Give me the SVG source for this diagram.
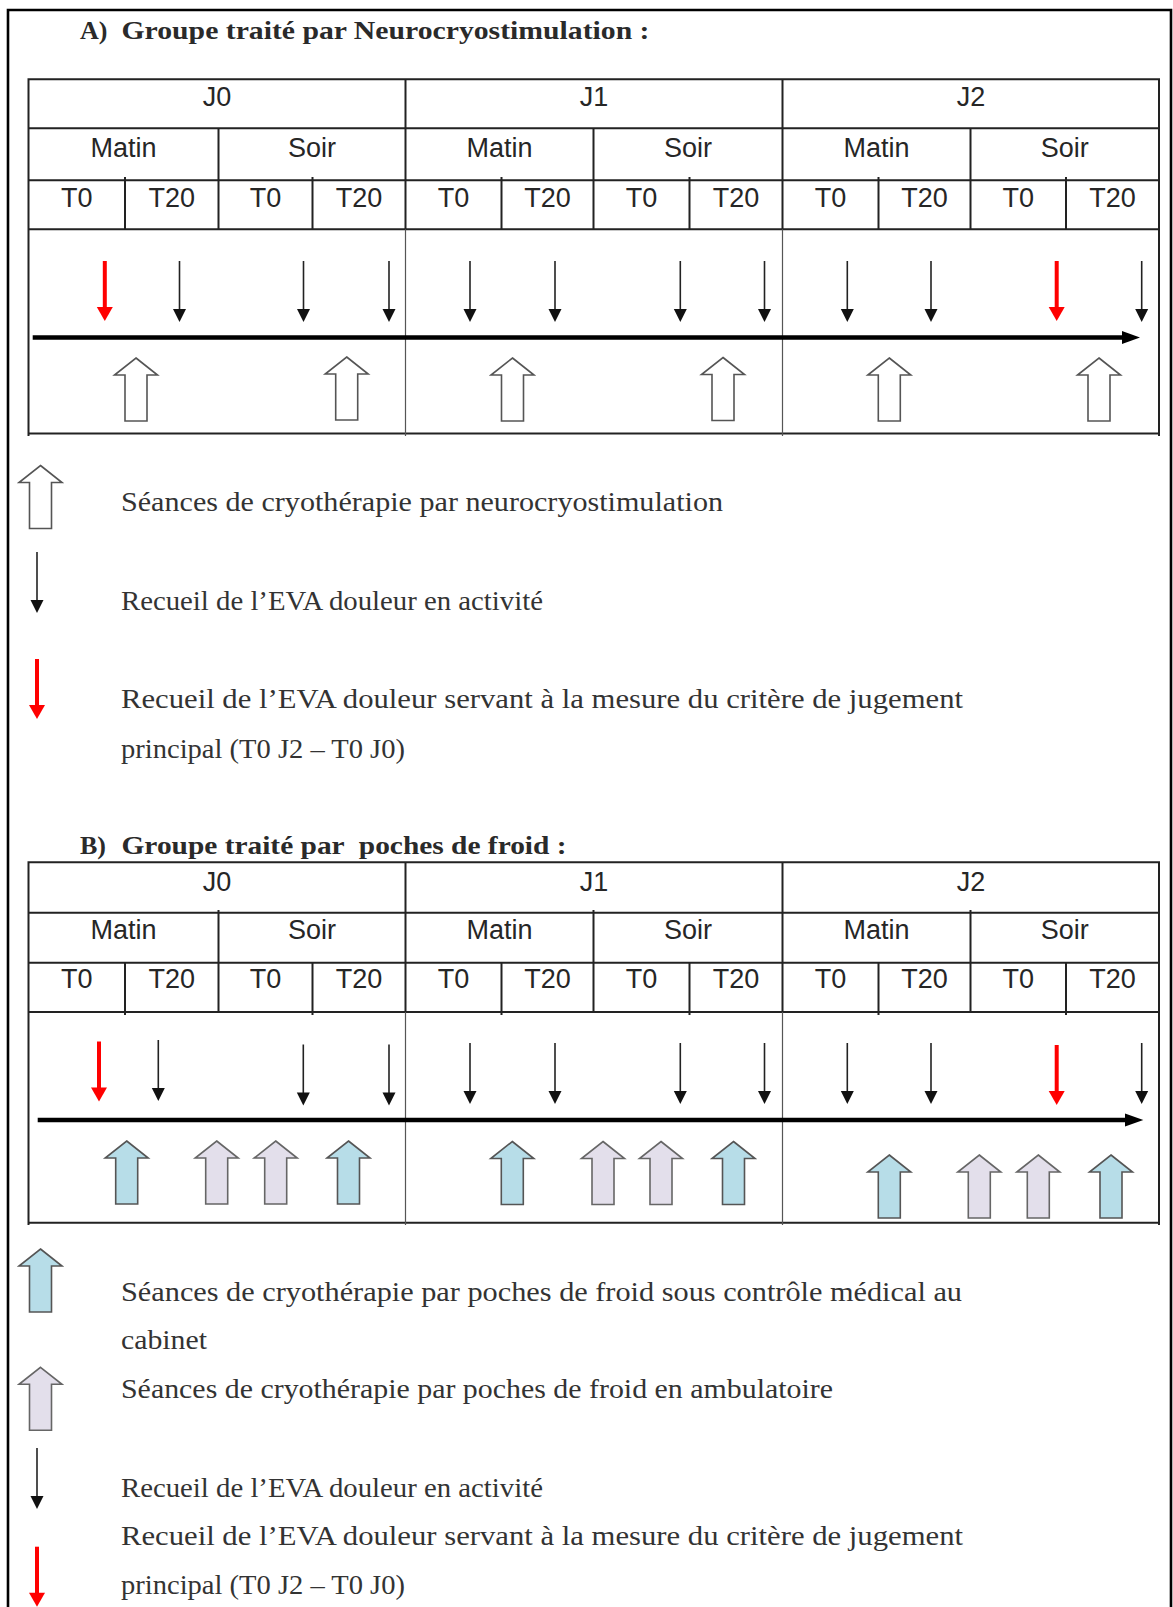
<svg xmlns="http://www.w3.org/2000/svg" width="1173" height="1607" viewBox="0 0 1173 1607">
  <style>
    .frame { fill: none; stroke: #000; stroke-width: 2.6; }
    .grid { fill: none; stroke: #222; stroke-width: 2; }
    .sep { fill: none; stroke: #555; stroke-width: 1.2; }
    .hd { font-family: "Liberation Sans", Arial, sans-serif; font-size: 27px; fill: #262626; text-anchor: middle; }
    .ttl { font-family: "Liberation Serif", "Times New Roman", serif; font-size: 26px; font-weight: bold; fill: #2a2a2a; }
    .lg { font-family: "Liberation Serif", "Times New Roman", serif; font-size: 28px; fill: #333; }
    .timeline { stroke: #000; stroke-width: 4.5; fill: none; }
    .sess-n { fill: #fff; stroke: #555; stroke-width: 1.6; }
    .sess-cab { fill: #b7dde8; stroke: #555; stroke-width: 1.6; }
    .sess-amb { fill: #e3dfeb; stroke: #666; stroke-width: 1.6; }
  </style>
  <defs>
    <!-- EVA pain measure: thin black arrow -->
    <g id="evaK">
      <line x1="0" y1="0" x2="0" y2="49" stroke="#222" stroke-width="1.6"/>
      <path d="M-6.5,48 L6.5,48 L0,61 Z" fill="#111"/>
    </g>
    <!-- EVA used for the primary endpoint: red arrow -->
    <g id="evaR">
      <line x1="0" y1="0" x2="0" y2="47" stroke="#f00" stroke-width="4"/>
      <path d="M-8,46 L8,46 L0,60 Z" fill="#f00"/>
    </g>
    <!-- block up-arrow for a cryotherapy session, tip at origin -->
    <path id="upArrow" d="M0,0 L21.5,17 L11,17 L11,63 L-11,63 L-11,17 L-21.5,17 Z"/>
  </defs>

  <rect width="1173" height="1607" fill="#fff"/>

  <!-- page frame -->
  <path class="frame" d="M8,1607 V10 H1171 V1607"/>

  <!-- ===================== A ===================== -->
  <g id="title-a">
    <text class="ttl" x="80" y="38.5">A)</text>
    <text class="ttl" x="121.5" y="38.5" textLength="528" lengthAdjust="spacingAndGlyphs">Groupe traité par Neurocryostimulation :</text>
  </g>

  <g id="table-a">
    <path class="grid" d="M28.5,79.3 H1159 M28.5,128.3 H1159 M28.5,180.3 H1159 M28.5,229.3 H1159 M28.5,433.5 H1159
      M28.5,78.3 V436 M1159,78.3 V436
      M405.5,78.3 V229.3 M782.5,78.3 V229.3
      M218.5,128.3 V229.3 M593.5,128.3 V229.3 M970.5,128.3 V229.3
      M125,177 V229.3 M312.5,177 V229.3 M501.5,177 V229.3 M689.5,177 V229.3 M878.5,177 V229.3 M1066,177 V229.3"/>
    <path class="sep" d="M405.5,229.3 V436 M782.5,229.3 V436"/>
    <g id="days-a">
      <text class="hd" x="217" y="106">J0</text>
      <text class="hd" x="594" y="106">J1</text>
      <text class="hd" x="971" y="106">J2</text>
    </g>
    <g id="halves-a">
      <text class="hd" x="123.5" y="156.5">Matin</text>
      <text class="hd" x="312" y="156.5">Soir</text>
      <text class="hd" x="499.5" y="156.5">Matin</text>
      <text class="hd" x="688" y="156.5">Soir</text>
      <text class="hd" x="876.5" y="156.5">Matin</text>
      <text class="hd" x="1064.7" y="156.5">Soir</text>
    </g>
    <g id="times-a">
      <text class="hd" x="76.7" y="206.5">T0</text>
      <text class="hd" x="171.7" y="206.5">T20</text>
      <text class="hd" x="265.5" y="206.5">T0</text>
      <text class="hd" x="359" y="206.5">T20</text>
      <text class="hd" x="453.5" y="206.5">T0</text>
      <text class="hd" x="547.5" y="206.5">T20</text>
      <text class="hd" x="641.5" y="206.5">T0</text>
      <text class="hd" x="736" y="206.5">T20</text>
      <text class="hd" x="830.5" y="206.5">T0</text>
      <text class="hd" x="924.5" y="206.5">T20</text>
      <text class="hd" x="1018.2" y="206.5">T0</text>
      <text class="hd" x="1112.5" y="206.5">T20</text>
    </g>
  </g>

  <g id="eva-a">
    <use href="#evaR" x="104.8" y="261"/>
    <use href="#evaK" x="179.5" y="261"/>
    <use href="#evaK" x="303.5" y="261"/>
    <use href="#evaK" x="389" y="261"/>
    <use href="#evaK" x="470" y="261"/>
    <use href="#evaK" x="555" y="261"/>
    <use href="#evaK" x="680.3" y="261"/>
    <use href="#evaK" x="764.5" y="261"/>
    <use href="#evaK" x="847.3" y="261"/>
    <use href="#evaK" x="931" y="261"/>
    <use href="#evaR" x="1056.7" y="261"/>
    <use href="#evaK" x="1141.7" y="261"/>
  </g>

  <g id="sessions-a">
    <use href="#upArrow" class="sess-n" x="136" y="358"/>
    <use href="#upArrow" class="sess-n" x="346.7" y="357"/>
    <use href="#upArrow" class="sess-n" x="512.5" y="358"/>
    <use href="#upArrow" class="sess-n" x="723" y="357.5"/>
    <use href="#upArrow" class="sess-n" x="889.3" y="358"/>
    <use href="#upArrow" class="sess-n" x="1099" y="358"/>
  </g>

  <g id="legend-a">
    <g id="legend-a-neuro">
      <use href="#upArrow" class="sess-n" x="40.5" y="465.5"/>
      <text class="lg" x="121" y="511" textLength="602" lengthAdjust="spacingAndGlyphs">Séances de cryothérapie par neurocryostimulation</text>
    </g>
    <g id="legend-a-eva">
      <use href="#evaK" x="37" y="552"/>
      <text class="lg" x="121" y="610" textLength="422" lengthAdjust="spacingAndGlyphs">Recueil de l’EVA douleur en activité</text>
    </g>
    <g id="legend-a-main">
      <use href="#evaR" x="37" y="659"/>
      <text class="lg" x="121" y="708" textLength="842" lengthAdjust="spacingAndGlyphs">Recueil de l’EVA douleur servant à la mesure du critère de jugement</text>
      <text class="lg" x="121" y="758" textLength="284" lengthAdjust="spacingAndGlyphs">principal (T0 J2 – T0 J0)</text>
    </g>
  </g>

  <!-- ===================== B ===================== -->
  <g id="title-b">
    <text class="ttl" x="80" y="854">B)</text>
    <text class="ttl" x="121.5" y="854" textLength="445" lengthAdjust="spacingAndGlyphs" xml:space="preserve">Groupe traité par  poches de froid :</text>
  </g>

  <g id="table-b">
    <path class="grid" d="M28.5,862.3 H1159 M28.5,912.7 H1159 M28.5,962.7 H1159 M28.5,1012 H1159 M28.5,1222.7 H1159
      M28.5,861.3 V1225 M1159,861.3 V1225
      M405.5,861.3 V1012 M782.5,861.3 V1012
      M218.5,910 V1012 M593.5,910 V1012 M970.5,910 V1012
      M125,962.7 V1015 M312.5,962.7 V1015 M501.5,962.7 V1015 M689.5,962.7 V1015 M878.5,962.7 V1015 M1066,962.7 V1015"/>
    <path class="sep" d="M405.5,1012 V1225 M782.5,1012 V1225"/>
    <g id="days-b">
      <text class="hd" x="217" y="891">J0</text>
      <text class="hd" x="594" y="891">J1</text>
      <text class="hd" x="971" y="891">J2</text>
    </g>
    <g id="halves-b">
      <text class="hd" x="123.5" y="939">Matin</text>
      <text class="hd" x="312" y="939">Soir</text>
      <text class="hd" x="499.5" y="939">Matin</text>
      <text class="hd" x="688" y="939">Soir</text>
      <text class="hd" x="876.5" y="939">Matin</text>
      <text class="hd" x="1064.7" y="939">Soir</text>
    </g>
    <g id="times-b">
      <text class="hd" x="76.7" y="988">T0</text>
      <text class="hd" x="171.7" y="988">T20</text>
      <text class="hd" x="265.5" y="988">T0</text>
      <text class="hd" x="359" y="988">T20</text>
      <text class="hd" x="453.5" y="988">T0</text>
      <text class="hd" x="547.5" y="988">T20</text>
      <text class="hd" x="641.5" y="988">T0</text>
      <text class="hd" x="736" y="988">T20</text>
      <text class="hd" x="830.5" y="988">T0</text>
      <text class="hd" x="924.5" y="988">T20</text>
      <text class="hd" x="1018.2" y="988">T0</text>
      <text class="hd" x="1112.5" y="988">T20</text>
    </g>
  </g>

  <g id="eva-b">
    <use href="#evaR" x="99" y="1041.5"/>
    <use href="#evaK" x="158.3" y="1040"/>
    <use href="#evaK" x="303.3" y="1044.5"/>
    <use href="#evaK" x="389" y="1044.5"/>
    <use href="#evaK" x="470" y="1043"/>
    <use href="#evaK" x="555" y="1043"/>
    <use href="#evaK" x="680.3" y="1043"/>
    <use href="#evaK" x="764.5" y="1043"/>
    <use href="#evaK" x="847.3" y="1043"/>
    <use href="#evaK" x="931" y="1043"/>
    <use href="#evaR" x="1056.7" y="1045"/>
    <use href="#evaK" x="1141.7" y="1043"/>
  </g>

  <g id="sessions-b">
    <use href="#upArrow" class="sess-cab" x="126.7" y="1141"/>
    <use href="#upArrow" class="sess-amb" x="216.7" y="1141"/>
    <use href="#upArrow" class="sess-amb" x="275.7" y="1141"/>
    <use href="#upArrow" class="sess-cab" x="348.5" y="1141"/>
    <use href="#upArrow" class="sess-cab" x="512.3" y="1141.5"/>
    <use href="#upArrow" class="sess-amb" x="603" y="1141.5"/>
    <use href="#upArrow" class="sess-amb" x="661" y="1141.5"/>
    <use href="#upArrow" class="sess-cab" x="733.5" y="1141.5"/>
    <use href="#upArrow" class="sess-cab" x="889.3" y="1155"/>
    <use href="#upArrow" class="sess-amb" x="979.3" y="1155"/>
    <use href="#upArrow" class="sess-amb" x="1038.3" y="1155"/>
    <use href="#upArrow" class="sess-cab" x="1111" y="1155"/>
  </g>

  <g id="legend-b">
    <g id="legend-b-cabinet">
      <use href="#upArrow" class="sess-cab" x="40.5" y="1249"/>
      <text class="lg" x="121" y="1300.5" textLength="841" lengthAdjust="spacingAndGlyphs">Séances de cryothérapie par poches de froid sous contrôle médical au</text>
      <text class="lg" x="121" y="1349" textLength="86" lengthAdjust="spacingAndGlyphs">cabinet</text>
    </g>
    <g id="legend-b-ambu">
      <use href="#upArrow" class="sess-amb" x="40.5" y="1367.3"/>
      <text class="lg" x="121" y="1398.3" textLength="712" lengthAdjust="spacingAndGlyphs">Séances de cryothérapie par poches de froid en ambulatoire</text>
    </g>
    <g id="legend-b-eva">
      <use href="#evaK" x="37" y="1448"/>
      <text class="lg" x="121" y="1496.7" textLength="422" lengthAdjust="spacingAndGlyphs">Recueil de l’EVA douleur en activité</text>
    </g>
    <g id="legend-b-main">
      <use href="#evaR" x="37" y="1546.7"/>
      <text class="lg" x="121" y="1545" textLength="842" lengthAdjust="spacingAndGlyphs">Recueil de l’EVA douleur servant à la mesure du critère de jugement</text>
      <text class="lg" x="121" y="1594" textLength="284" lengthAdjust="spacingAndGlyphs">principal (T0 J2 – T0 J0)</text>
    </g>
  </g>

  <!-- time axes -->
  <g id="connectors">
    <line class="timeline" x1="32.7" y1="337.5" x2="1124" y2="337.5"/>
    <path d="M1122,331 L1140,337.5 L1122,344 Z" fill="#000"/>
    <line class="timeline" x1="37.7" y1="1120" x2="1127" y2="1120"/>
    <path d="M1125,1113.5 L1143.3,1120 L1125,1126.5 Z" fill="#000"/>
  </g>
</svg>
